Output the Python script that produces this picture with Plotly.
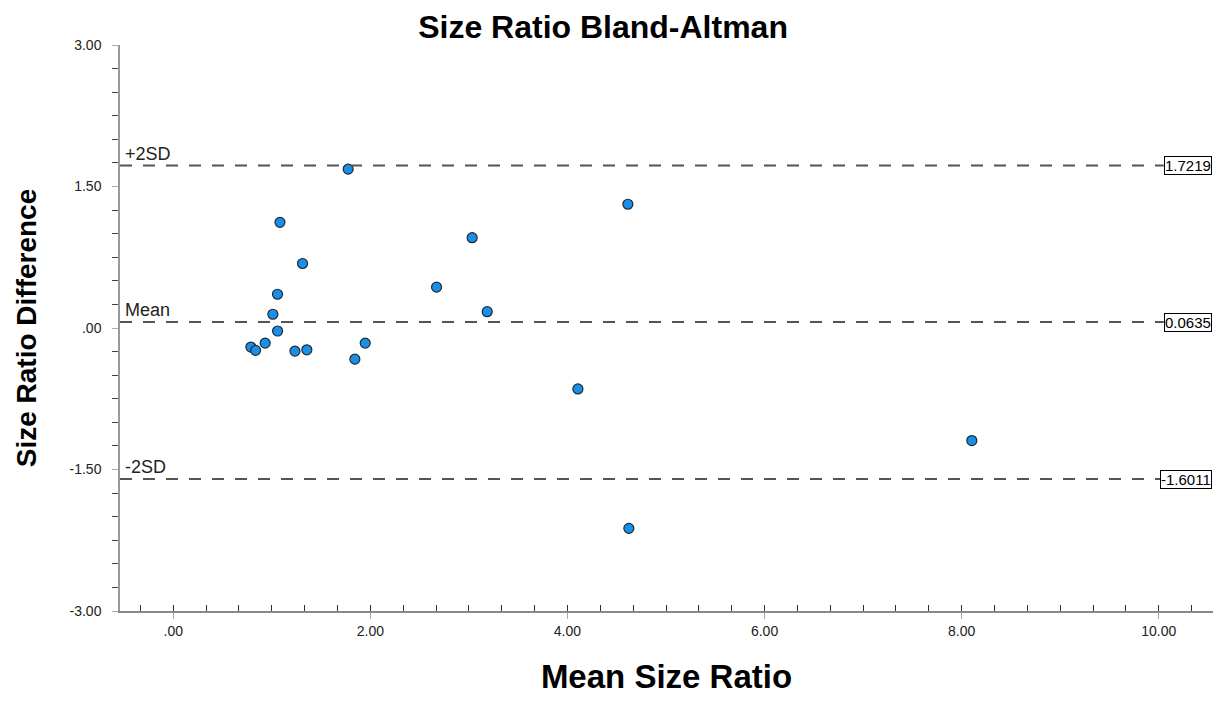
import plotly.graph_objects as go

# Data
mean_size_ratio = [1.775, 1.083, 1.312, 1.058, 1.011, 1.059, 0.788, 0.836, 0.933, 1.235,
                   1.356, 1.843, 1.948, 2.672, 3.186, 3.033, 4.613, 4.106, 4.623, 8.103]
size_ratio_diff = [1.684, 1.12, 0.684, 0.358, 0.146, -0.032, -0.202, -0.237, -0.16, -0.245,
                   -0.231, -0.33, -0.16, 0.433, 0.173, 0.957, 1.312, -0.646, -2.124, -1.193]

ref_names = ["+2SD", "Mean", "-2SD"]
ref_values = [1.7219, 0.0635, -1.6011]
ref_labels = ["1.7219", "0.0635", "-1.6011"]

x_ticks = [0, 2, 4, 6, 8, 10]
x_ticklabels = [".00", "2.00", "4.00", "6.00", "8.00", "10.00"]
y_ticks = [3, 1.5, 0, -1.5, -3]
y_ticklabels = ["3.00", "1.50", ".00", "-1.50", "-3.00"]

FONT = "Liberation Sans, Arial, sans-serif"

fig = go.Figure()
fig.add_trace(go.Scatter(
    x=mean_size_ratio, y=size_ratio_diff, mode="markers",
    marker=dict(size=10, color="#1b8fe3", line=dict(color="#1a2a3a", width=1.2)),
    showlegend=False, hoverinfo="x+y",
))

shapes = []
annotations = []
for name, val, lab in zip(ref_names, ref_values, ref_labels):
    shapes.append(dict(type="line", xref="x domain", yref="y", x0=0, x1=0.955, y0=val, y1=val,
                       line=dict(color="#555555", width=2, dash="12px,11px"), layer="above"))
    annotations.append(dict(xref="paper", yref="y", x=0.003, y=val, xanchor="left", yanchor="bottom",
                            text=name, showarrow=False, yshift=0,
                            font=dict(family=FONT, size=18, color="#222222")))
    annotations.append(dict(xref="paper", yref="y", x=0.9995, y=val, xanchor="right", yanchor="middle",
                            text=lab, showarrow=False, bgcolor="white", bordercolor="#000000",
                            borderwidth=1, borderpad=0,
                            font=dict(family=FONT, size=15, color="#000000")))

fig.update_layout(
    width=1207, height=687, autosize=False,
    paper_bgcolor="white", plot_bgcolor="white",
    margin=dict(l=112, r=2, t=37, b=84),
    title=dict(text="<b>Size Ratio Bland-Altman</b>", x=0.493, xanchor="center", y=0.972, yanchor="middle",
               font=dict(family=FONT, size=32, color="#000000")),
    font=dict(family=FONT, size=12, color="#222222"),
    shapes=shapes, annotations=annotations,
    xaxis=dict(range=[-0.54, 10.55], tickvals=x_ticks, ticktext=x_ticklabels,
               showgrid=False, zeroline=False, showline=True, linecolor="#888888", linewidth=1.5,
               ticks="outside", ticklen=6, tickcolor="#aaaaaa", tickwidth=1,
               minor=dict(dtick=1/3, tick0=0, ticks="inside", ticklen=6, tickcolor="#333333", tickwidth=1.2),
               tickfont=dict(family=FONT, size=14, color="#222222"),
               title=dict(text="<b>Mean Size Ratio</b>", standoff=30,
                          font=dict(family=FONT, size=33, color="#000000"))),
    yaxis=dict(range=[-3, 3], tickvals=y_ticks, ticktext=y_ticklabels,
               showgrid=False, zeroline=False, showline=True, linecolor="#999999", linewidth=1.5,
               ticks="outside", ticklen=6, tickcolor="#aaaaaa", tickwidth=1,
               ticklabelstandoff=8,
               minor=dict(dtick=0.25, tick0=0, ticks="outside", ticklen=6, tickcolor="#444444", tickwidth=1.2),
               tickfont=dict(family=FONT, size=14, color="#222222"),
               title=dict(text="<b>Size Ratio Difference</b>", standoff=25,
                          font=dict(family=FONT, size=28, color="#000000"))),
)

fig.write_html("out.html")
